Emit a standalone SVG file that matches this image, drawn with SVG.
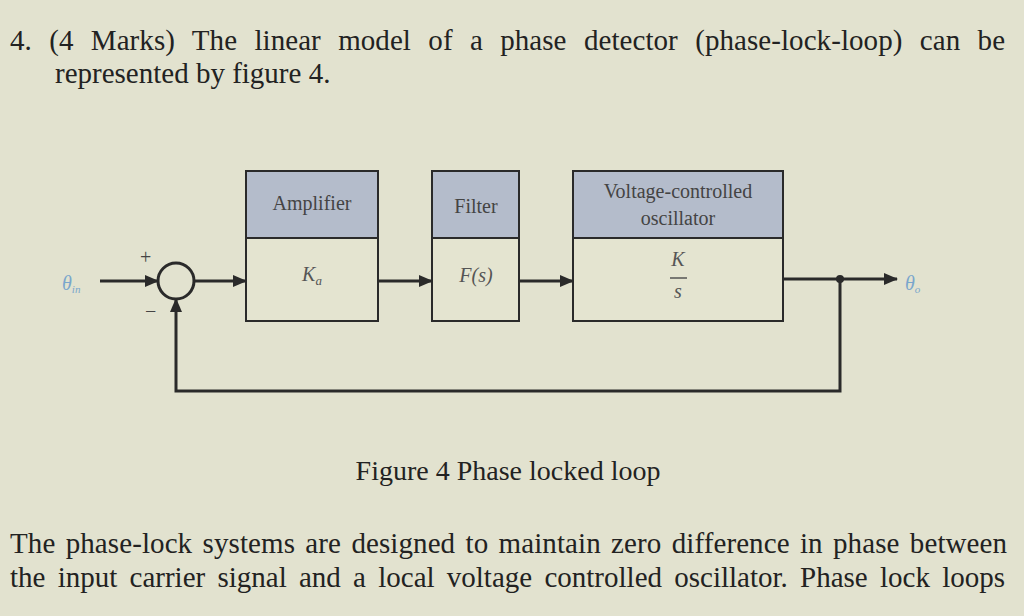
<svg xmlns="http://www.w3.org/2000/svg" width="1024" height="616" viewBox="0 0 1024 616">
<style>
.t{font-family:"Liberation Serif",serif;fill:#222}
.hd{fill:#b4bccb;stroke:#2a2a2a;stroke-width:2}
.bd{fill:#e4e4d0;stroke:#2a2a2a;stroke-width:2}
.ln{stroke:#2a2a2a;stroke-width:3;fill:none}
.lb{font-family:"Liberation Serif",serif;font-size:20px;fill:#444}
.it{font-family:"Liberation Serif",serif;font-style:italic;font-size:20px;fill:#555}
</style>
<defs><marker id="a" markerWidth="14" markerHeight="12" refX="13" refY="6" orient="auto" markerUnits="userSpaceOnUse"><path d="M0,0L14,6L0,12z" fill="#2a2a2a"/></marker></defs>
<rect width="1024" height="616" fill="#e2e2cf"/>
<text class="t" x="10" y="50" font-size="29" word-spacing="10" textLength="995" lengthAdjust="spacing">4. (4 Marks) The linear model of a phase detector (phase-lock-loop) can be</text>
<text class="t" x="55" y="83" font-size="29">represented by figure 4.</text>
<g id="amp"><rect class="bd" x="246" y="171" width="132" height="150"/><rect class="hd" x="246" y="171" width="132" height="67"/><text class="lb" x="312" y="210" text-anchor="middle">Amplifier</text><text class="it" x="312" y="281" text-anchor="middle">K<tspan font-size="13" dy="4">a</tspan></text></g>
<g id="filter"><rect class="bd" x="432" y="171" width="87" height="150"/><rect class="hd" x="432" y="171" width="87" height="67"/><text class="lb" x="476" y="213" text-anchor="middle">Filter</text><text class="it" x="476" y="282" text-anchor="middle">F(s)</text></g>
<g id="vco"><rect class="bd" x="573" y="171" width="210" height="150"/><rect class="hd" x="573" y="171" width="210" height="67"/><text class="lb" x="678" y="198" text-anchor="middle">Voltage-controlled</text><text class="lb" x="678" y="225" text-anchor="middle">oscillator</text><text class="it" x="678" y="266" text-anchor="middle" font-size="17">K</text><line x1="670" y1="278" x2="687" y2="278" stroke="#555" stroke-width="1.5"/><text class="it" x="678" y="298" text-anchor="middle" font-size="17">s</text></g>
<g id="sum"><circle cx="176" cy="281" r="18" fill="none" stroke="#2a2a2a" stroke-width="3"/><text class="lb" x="140" y="264" font-size="16">+</text><text class="lb" x="145" y="318" font-size="18">−</text></g>
<text class="it" x="62" y="290" style="fill:#7aa6cc" font-size="17">θ<tspan font-size="11" dy="3">in</tspan></text>
<text class="it" x="905" y="290" style="fill:#7aa6cc" font-size="17">θ<tspan font-size="11" dy="3">o</tspan></text>
<g id="connectors">
<line class="ln" x1="100" y1="281" x2="158" y2="281" marker-end="url(#a)"/>
<line class="ln" x1="194" y1="281" x2="246" y2="281" marker-end="url(#a)"/>
<line class="ln" x1="379" y1="281" x2="432" y2="281" marker-end="url(#a)"/>
<line class="ln" x1="520" y1="281" x2="573" y2="281" marker-end="url(#a)"/>
<line class="ln" x1="784" y1="279" x2="897" y2="279" marker-end="url(#a)"/>
<polyline class="ln" points="840,279 840,391 176,391 176,299" marker-end="url(#a)"/>
<circle cx="840" cy="279" r="4" fill="#2a2a2a"/>
</g>
<text class="t" x="508" y="480" font-size="28" text-anchor="middle">Figure 4 Phase locked loop</text>
<text class="t" x="10" y="553" font-size="29" word-spacing="3" textLength="997" lengthAdjust="spacing">The phase-lock systems are designed to maintain zero difference in phase between</text>
<text class="t" x="10" y="587" font-size="29" word-spacing="5" textLength="995" lengthAdjust="spacing">the input carrier signal and a local voltage controlled oscillator. Phase lock loops</text>
</svg>
